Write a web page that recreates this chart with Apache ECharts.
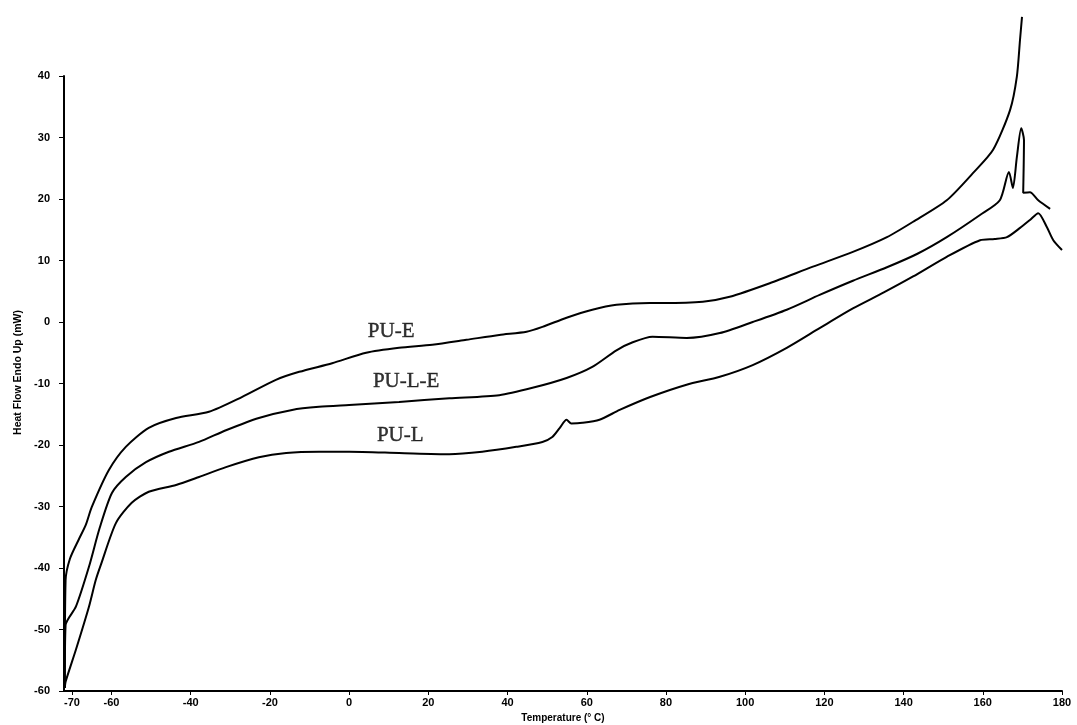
<!DOCTYPE html>
<html>
<head>
<meta charset="utf-8">
<script src="https://cdn.jsdelivr.net/npm/echarts@6/dist/echarts.min.js"></script>
<style>
html,body{margin:0;padding:0;background:#fff;}
#chart{width:1077px;height:725px;}
</style>
</head>
<body>
<div id="chart"></div>
<script>
// ---- data ----
const xTicks = [-70, -60, -40, -20, 0, 20, 40, 60, 80, 100, 120, 140, 160, 180];

const puE_T = [-71.8, -71.6, -70.5, -68.3, -66.5, -65.0, -60.7, -56.4, -50.6, -43.7, -35.4, -27.1, -18.5, -12.6, -4.3, 4.3, 12.6, 21.0, 29.6, 37.9, 44.8, 48.8, 54.9, 61.4, 67.5, 75.9, 79.1, 89.3, 96.1, 106.2, 117.1, 127.2, 135.8, 142.4, 150.9, 157.5, 162.6, 166.9, 168.6, 169.4, 169.9];
const puE_H = [-59.5, -42.0, -38.5, -35.4, -33.0, -30.1, -24.1, -20.3, -17.2, -15.6, -14.6, -12.2, -9.4, -8.1, -6.7, -5.0, -4.2, -3.7, -2.9, -2.1, -1.6, -0.8, 0.7, 2.0, 2.8, 3.1, 3.1, 3.3, 4.1, 6.3, 9.0, 11.4, 13.8, 16.3, 19.8, 24.2, 28.0, 34.5, 39.9, 45.9, 49.6];

const puLE_T = [-71.8, -71.6, -69.0, -65.7, -63.0, -59.9, -56.4, -51.3, -45.5, -37.9, -31.1, -22.8, -14.4, -7.6, 0, 12.6, 25.3, 37.9, 46.3, 54.9, 61.4, 67.5, 71.6, 76.6, 85.2, 93.6, 101.9, 110.5, 118.8, 127.2, 135.8, 143.5, 150.9, 159.3, 164.3, 166.6, 167.6, 168.6, 169.7, 170.4, 170.2, 171.9, 174.0, 177.0];
const puLE_H = [-59.5, -49.3, -46.3, -39.8, -33.5, -27.8, -25.2, -22.8, -21.1, -19.5, -17.6, -15.6, -14.3, -13.8, -13.5, -13.0, -12.4, -11.9, -10.7, -9.1, -7.3, -4.6, -3.3, -2.4, -2.6, -1.8, 0.0, 2.0, 4.4, 6.7, 8.9, 11.1, 13.8, 17.4, 19.8, 24.4, 21.8, 26.8, 31.5, 29.6, 21.0, 21.1, 19.8, 18.4];

const puL_T = [-71.8, -71.6, -69.0, -65.7, -64.0, -62.7, -58.9, -54.9, -50.6, -43.7, -37.9, -31.1, -22.8, -15.9, -7.6, 0, 12.6, 25.3, 33.6, 42.2, 48.8, 51.3, 53.2, 54.9, 56.1, 58.9, 63.2, 68.3, 76.0, 85.2, 93.6, 101.9, 110.5, 118.8, 127.2, 135.0, 142.4, 150.9, 159.3, 163.0, 166.1, 169.4, 171.9, 174.0, 176.2, 177.8, 180.0];
const puL_H = [-59.5, -58.5, -53.3, -46.3, -42.0, -39.5, -32.7, -29.4, -27.6, -26.5, -25.2, -23.6, -22.0, -21.3, -21.1, -21.1, -21.3, -21.5, -21.1, -20.3, -19.5, -18.7, -17.2, -15.9, -16.5, -16.4, -15.9, -14.3, -12.2, -10.2, -8.9, -7.0, -4.2, -1.0, 2.2, 4.8, 7.4, 10.6, 13.3, 13.5, 13.8, 15.3, 16.6, 17.7, 15.4, 13.3, 11.7];

const curveNames = ['PU-E', 'PU-L-E', 'PU-L'];
const labelT = [10.6, 14.4, 12.9];
const labelH = [-1.6, -9.6, -18.5];

// ---- build ----
const zip = (a, b) => a.map((v, i) => [v, b[i]]);
const curves = [zip(puE_T, puE_H), zip(puLE_T, puLE_H), zip(puL_T, puL_H)];

const tickFont = {fontFamily: 'Liberation Sans', fontWeight: 'bold', fontSize: 11, color: '#000'};

const series = curves.map((d, i) => ({
  name: curveNames[i],
  type: 'line',
  data: d,
  showSymbol: false,
  smooth: 0.25,
  clip: false,
  lineStyle: {color: '#000', width: 2},
  z: 3
}));
series.push({
  type: 'scatter',
  data: labelT.map((t, i) => ({value: [t, labelH[i]], name: curveNames[i]})),
  symbolSize: 1,
  itemStyle: {color: 'rgba(0,0,0,0)'},
  label: {
    show: true, position: 'inside', formatter: p => p.name,
    fontFamily: 'Liberation Serif', fontSize: 21, color: '#000',
    textBorderColor: '#000', textBorderWidth: 0.4
  },
  silent: true,
  z: 5
});

const chart = echarts.init(document.getElementById('chart'), null, {renderer: 'canvas'});
chart.setOption({
  backgroundColor: '#fff',
  animation: false,
  grid: {left: 64, right: 15, top: 76, bottom: 34, containLabel: false, outerBoundsMode: 'none'},
  xAxis: {
    type: 'value', min: -72, max: 180,
    name: 'Temperature (° C)', nameLocation: 'middle', nameGap: 15,
    nameTextStyle: {fontFamily: 'Liberation Sans', fontWeight: 'bold', fontSize: 10, color: '#000'},
    axisLine: {show: true, onZero: false, lineStyle: {color: '#000', width: 2}},
    axisTick: {show: true, customValues: xTicks, length: 4, lineStyle: {color: '#000'}},
    axisLabel: Object.assign({customValues: xTicks, margin: 6}, tickFont),
    splitLine: {show: false}
  },
  yAxis: {
    type: 'value', min: -60, max: 40, interval: 10,
    name: 'Heat Flow Endo Up (mW)', nameLocation: 'middle', nameGap: 38,
    nameTextStyle: {fontFamily: 'Liberation Sans', fontWeight: 'bold', fontSize: 10.5, color: '#000', padding: [0, 0, 0, 22]},
    axisLine: {show: true, onZero: false, lineStyle: {color: '#000', width: 2}},
    axisTick: {show: true, length: 5, lineStyle: {color: '#000'}},
    axisLabel: Object.assign({margin: 14}, tickFont),
    splitLine: {show: false}
  },
  series: series
});
</script>
</body>
</html>
